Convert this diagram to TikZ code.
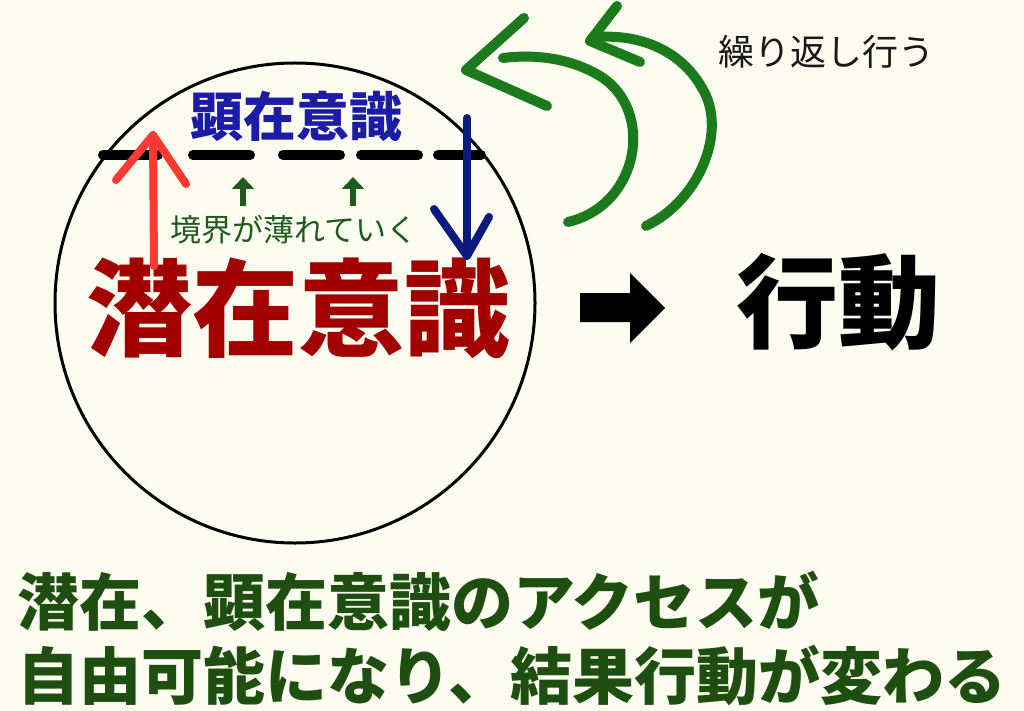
\documentclass[tikz,border=0pt]{standalone}
\usepackage{fontspec}
\newfontfamily\jp{Noto Sans CJK JP}
\usetikzlibrary{arrows.meta}
\definecolor{bgc}{HTML}{FDFCF0}
\definecolor{redarr}{HTML}{FF3A33}
\definecolor{bluearr}{HTML}{0D1A80}
\definecolor{bluetxt}{HTML}{1C1CA6}
\definecolor{redtxt}{HTML}{A30000}
\definecolor{smallgreen}{HTML}{1E5A1E}
\definecolor{curlgreen}{HTML}{1B7A1B}
\definecolor{bottomgreen}{HTML}{1F4F10}
\tikzset{
  txt/.style={inner sep=0pt, outer sep=0pt, anchor=center},
  redline/.style={draw=redarr, line width=8pt, line cap=round, line join=round},
  blueline/.style={draw=bluearr, line width=8pt, line cap=round, line join=round},
  curl/.style={draw=curlgreen, line width=10pt, line cap=round, line join=round},
  dashseg/.style={draw=black, line width=10pt, line cap=round},
  uparrow/.style={draw=smallgreen, line width=6pt, -{Triangle[length=12pt,width=22pt]}},
}
\begin{document}
\begin{tikzpicture}[x=1pt,y=-1pt]
\useasboundingbox (0,0) rectangle (1024,711);
\fill[bgc] (0,0) rectangle (1024,711);

% circle
\node[draw=black, line width=3pt, circle, minimum size=480pt, inner sep=0pt] (circ) at (295,303) {};

% dashed boundary
\coordinate (d1a) at (103,155); \coordinate (d1b) at (158,155);
\coordinate (d2a) at (193,155); \coordinate (d2b) at (250,155);
\coordinate (d3a) at (283,155); \coordinate (d3b) at (340,155);
\coordinate (d4a) at (361,155); \coordinate (d4b) at (418,155);
\coordinate (d5a) at (438,155); \coordinate (d5b) at (481,155);
\draw[dashseg] (d1a) -- (d1b);
\draw[dashseg] (d2a) -- (d2b);
\draw[dashseg] (d3a) -- (d3b);
\draw[dashseg] (d4a) -- (d4b);
\draw[dashseg] (d5a) -- (d5b);

% texts
\node[txt, text=bluetxt, font=\jp\bfseries\fontsize{53}{53}\selectfont] (ken) at (296,116) {顕在意識};
\node[txt, text=smallgreen, font=\jp\fontsize{31}{31}\selectfont] (kyo) at (294,230) {境界が薄れていく};
\node[txt, text=redtxt, font=\jp\bfseries\fontsize{106}{106}\selectfont] (sen) at (298,308) {潜在意識};
\node[txt, text=black, font=\jp\bfseries\fontsize{102}{102}\selectfont] (kou) at (838,302) {行動};
\node[txt, text=black!90, font=\jp\fontsize{36}{36}\selectfont] (kuri) at (826,52) {繰り返し行う};
\node[txt, anchor=west, text=bottomgreen, font=\jp\bfseries\fontsize{62}{62}\selectfont] (b1) at (17,601) {潜在、顕在意識のアクセスが};
\node[txt, anchor=west, text=bottomgreen, font=\jp\bfseries\fontsize{62}{62}\selectfont] (b2) at (17,676) {自由可能になり、結果行動が変わる};

% small green arrows
\coordinate (g1a) at (243,206); \coordinate (g1b) at (243,177);
\coordinate (g2a) at (353,206); \coordinate (g2b) at (353,177);
\draw[uparrow] (g1a) -- (g1b);
\draw[uparrow] (g2a) -- (g2b);

% red arrow (up)
\coordinate (r0) at (154,266); \coordinate (r1) at (153,135);
\coordinate (rl) at (116,180); \coordinate (rr) at (186,184);
\draw[redline] (r0) -- (r1);
\draw[redline] (rl) -- (r1) -- (rr);

% blue arrow (down)
\coordinate (u0) at (467,118); \coordinate (u1) at (467,256);
\coordinate (ul) at (434,209); \coordinate (ur) at (489,217);
\draw[blueline] (u0) -- (u1);
\draw[blueline] (ul) -- (u1) -- (ur);

% black block arrow
\fill[black] (580,293) -- (630,293) -- (630,273) -- (665,308) -- (630,343) -- (630,322) -- (580,322) -- cycle;

% green curly arrows
\coordinate (c1s) at (568,222); \coordinate (c1e) at (503,58);
\coordinate (c1t) at (466,70); \coordinate (c1u) at (524,18); \coordinate (c1d) at (547,106);
\draw[curl] (c1s) .. controls (640,205) and (655,110) .. (600,76) .. controls (570,58) and (535,54) .. (c1e);
\draw[curl] (c1u) -- (c1t) -- (c1d);

\coordinate (c2s) at (646,226); \coordinate (c2e) at (598,37);
\coordinate (c2t) at (590,41); \coordinate (c2u) at (617,6); \coordinate (c2d) at (640,62);
\draw[curl] (c2s) .. controls (700,200) and (728,130) .. (702,88) .. controls (682,52) and (642,34) .. (c2e);
\draw[curl] (c2u) -- (c2t) -- (c2d);
\end{tikzpicture}
\end{document}
